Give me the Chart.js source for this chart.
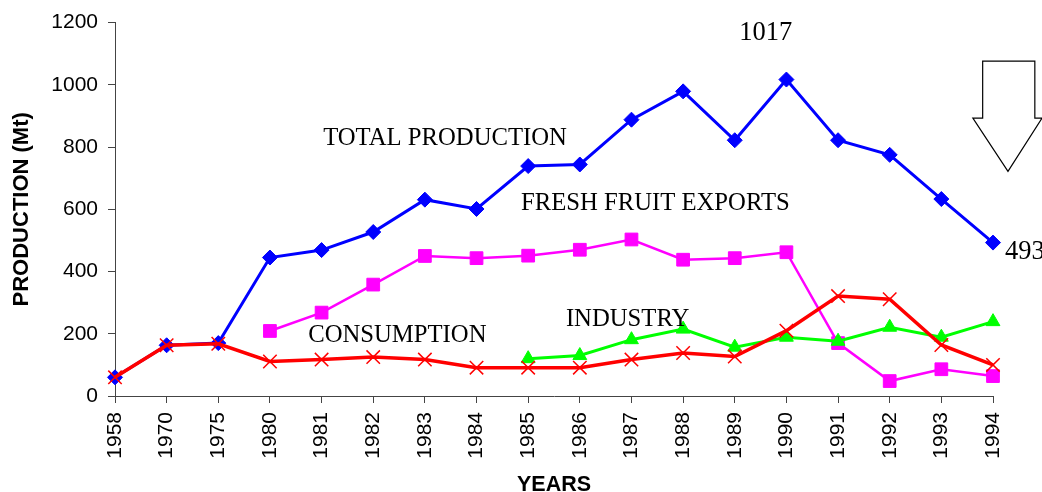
<!DOCTYPE html>
<html>
<head>
<meta charset="utf-8">
<script src="https://cdn.jsdelivr.net/npm/chart.js@4/dist/chart.umd.min.js"></script>
<style>
  body { margin: 0; background: #fff; }
  #wrap { width: 1042px; height: 492px; }
</style>
</head>
<body>
<div id="wrap"><canvas id="chart" width="1042" height="492"></canvas></div>
<script>
// data
var years = ['1958', '1970', '1975', '1980', '1981', '1982', '1983', '1984', '1985', '1986',
             '1987', '1988', '1989', '1990', '1991', '1992', '1993', '1994'];

var totalProduction = [60, 163, 170, 445, 469, 527, 631, 601, 739, 744, 888, 979, 822, 1017, 822, 775, 633, 493];
var freshExports = [null, null, null, 209, 268, 358, 450, 443, 451, 470, 503, 438, 443, 462, 170, 48, 86, 64];
var industry = [null, null, null, null, null, null, null, null, 120, 130, 181, 215, 157, 189, 176, 221, 189, 239];
var consumption = [60, 163, 168, 111, 117, 125, 117, 91, 91, 91, 117, 138, 127, 210, 321, 311, 164, 100];

var yTicks = [0, 200, 400, 600, 800, 1000, 1200];

// text notes on the plot, placed in data units (category index, value)
var notes = [
  { text: 'TOTAL PRODUCTION', at: [4.03, 826], size: 24.7, align: 'left' },
  { text: 'FRESH FRUIT EXPORTS', at: [7.86, 619], size: 24.7, align: 'left' },
  { text: 'INDUSTRY', at: [8.73, 247], size: 24.7, align: 'left' },
  { text: 'CONSUMPTION', at: [3.74, 194], size: 24.7, align: 'left' },
  { text: '1017', at: [12.6, 1167], size: 26.5, align: 'center' },
  { text: '493', at: [17.23, 462], size: 26.5, align: 'left' }
];

var notesPlugin = {
  id: 'notes',
  afterDraw: function (chart) {
    var ctx = chart.ctx;
    var xs = chart.scales.x, ys = chart.scales.y;
    ctx.save();
    ctx.fillStyle = '#000';
    ctx.textBaseline = 'middle';
    notes.forEach(function (n) {
      ctx.font = n.size + 'px "Liberation Serif", "Times New Roman", serif';
      ctx.textAlign = n.align;
      ctx.fillText(n.text, xs.getPixelForValue(n.at[0]), ys.getPixelForValue(n.at[1]));
    });

    // hollow down arrow next to the last point
    var sl = xs.getPixelForValue(16.8), sr = xs.getPixelForValue(17.81);
    var hl = xs.getPixelForValue(16.61), hr = xs.getPixelForValue(17.95);
    var tip = xs.getPixelForValue(17.29);
    var top = ys.getPixelForValue(1076), neck = ys.getPixelForValue(893), end = ys.getPixelForValue(722);
    ctx.beginPath();
    ctx.moveTo(sl, top);
    ctx.lineTo(sr, top);
    ctx.lineTo(sr, neck);
    ctx.lineTo(hr, neck);
    ctx.lineTo(tip, end);
    ctx.lineTo(hl, neck);
    ctx.lineTo(sl, neck);
    ctx.closePath();
    ctx.fillStyle = '#fff';
    ctx.fill();
    ctx.strokeStyle = '#000';
    ctx.lineWidth = 1.2;
    ctx.stroke();
    ctx.restore();
  }
};

var ctx = document.getElementById('chart').getContext('2d');
var myChart = new Chart(ctx, {
  type: 'line',
  data: {
    labels: years,
    datasets: [
      {
        label: 'CONSUMPTION',
        data: consumption,
        borderColor: '#ff0000',
        backgroundColor: '#ff0000',
        borderWidth: 3.5,
        pointStyle: 'crossRot',
        pointRadius: 9.5,
        pointBorderWidth: 1.5,
        pointBorderColor: '#ff0000',
        tension: 0,
        clip: false
      },
      {
        label: 'INDUSTRY',
        data: industry,
        borderColor: '#00ff00',
        backgroundColor: '#00ff00',
        borderWidth: 3,
        pointStyle: 'triangle',
        pointRadius: 8,
        pointBorderWidth: 1,
        tension: 0,
        clip: false
      },
      {
        label: 'FRESH FRUIT EXPORTS',
        data: freshExports,
        borderColor: '#ff00ff',
        backgroundColor: '#ff00ff',
        borderWidth: 2.5,
        pointStyle: 'rect',
        pointRadius: 9,
        pointBorderWidth: 1,
        tension: 0,
        clip: false
      },
      {
        label: 'TOTAL PRODUCTION',
        data: totalProduction,
        borderColor: '#0000ff',
        backgroundColor: '#0000ff',
        borderWidth: 3,
        pointStyle: 'rectRot',
        pointRadius: 7.5,
        pointBorderWidth: 1,
        tension: 0,
        clip: false
      }
    ]
  },
  options: {
    responsive: false,
    animation: false,
    layout: { padding: { top: 17, right: 49, bottom: 0, left: 0 } },
    plugins: {
      legend: { display: false },
      tooltip: { enabled: false }
    },
    scales: {
      x: {
        offset: false,
        grid: { drawOnChartArea: false, drawTicks: true, tickLength: 7, color: '#444' },
        border: { display: true, color: '#444', width: 1 },
        ticks: {
          minRotation: 90,
          maxRotation: 90,
          autoSkip: false,
          padding: 9,
          color: '#000',
          font: { family: '"Liberation Sans", Arial, sans-serif', size: 21 }
        },
        title: {
          display: true,
          text: 'YEARS',
          color: '#000',
          padding: { top: 0, bottom: 0 },
          font: { family: '"Liberation Sans", Arial, sans-serif', size: 21.5, weight: 'bold', lineHeight: 0.62 }
        },
        afterFit: function (scale) { scale.height = 96; }
      },
      y: {
        min: 0,
        max: 1200,
        afterBuildTicks: function (scale) {
          scale.ticks = yTicks.map(function (v) { return { value: v }; });
        },
        grid: { drawOnChartArea: false, drawTicks: true, tickLength: 7, color: '#444' },
        border: { display: true, color: '#444', width: 1 },
        ticks: {
          padding: 10,
          color: '#000',
          font: { family: '"Liberation Sans", Arial, sans-serif', size: 21 },
          callback: function (v) { return String(v); }
        },
        title: {
          display: true,
          text: 'PRODUCTION (Mt)',
          color: '#000',
          padding: { top: 9, bottom: 0 },
          font: { family: '"Liberation Sans", Arial, sans-serif', size: 22, weight: 'bold' }
        },
        afterFit: function (scale) { scale.width = 115; }
      }
    }
  },
  plugins: [notesPlugin]
});
</script>
</body>
</html>
